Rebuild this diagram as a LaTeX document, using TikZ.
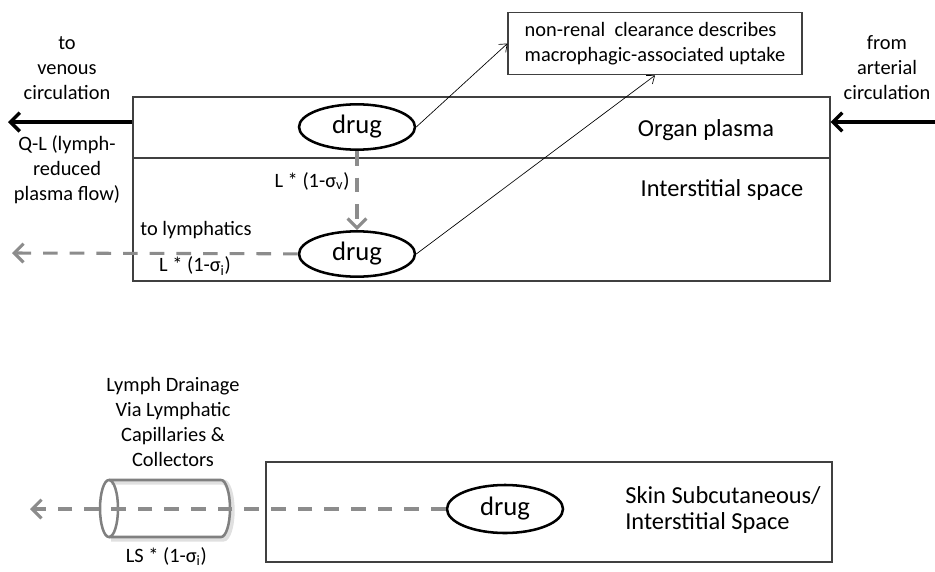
\documentclass[tikz,border=0pt]{standalone}
\usepackage{fontspec}
\setmainfont{Carlito}
\usetikzlibrary{positioning,shapes.geometric,arrows.meta}

\begin{document}
\begin{tikzpicture}[x=0.75pt, y=-0.75pt,
  room/.style={draw=black!75, line width=0.8pt, inner sep=0pt},
  drug/.style={draw, ellipse, line width=1.9pt, minimum width=87pt, minimum height=34pt, inner sep=0pt, font=\fontsize{20}{24}\selectfont},
  lbl/.style={align=center, inner sep=0pt, font=\fontsize{15.3}{18.7}\selectfont},
  big/.style={inner sep=0pt, font=\fontsize{18.3}{19.5}\selectfont},
  flow/.style={line width=2.6pt, -{Straight Barb[length=7pt,width=14pt]}},
  lymph/.style={draw=black!45, line width=2.3pt, dash pattern=on 11pt off 9pt, -{Straight Barb[length=7pt,width=14pt]}},
  uptake/.style={line width=0.5pt, -{Straight Barb[length=5pt,width=8pt]}},
  tube/.style={draw=black!50, line width=1.9pt},
  glow/.style={draw=black!12, line width=4pt}]
\useasboundingbox (0,0) rectangle (935,571);

% organ
\node[room, minimum width=522.75pt, minimum height=45.75pt] (plasma) at (481.5,127.5) {};
\node[room, minimum width=522.75pt, minimum height=92.25pt] (isf) at (481.5,219.5) {};
\node[big] (plasmatxt) at (706,130) {Organ plasma};
\node[big] (isftxt) at (722,190) {Interstitial space};

\node[drug] (vdrug) at (357,127) {drug};
\node[drug] (idrug) at (357,254) {drug};

\node[room, lbl, align=left, minimum width=220.5pt, minimum height=47pt] (clear) at (655,43.5) {non-renal \ clearance describes\\macrophagic-associated uptake};

\node[lbl] (ventxt) at (67,68) {to\\venous\\circulation};
\node[lbl] (qltxt) at (67,170) {Q-L (lymph-\\reduced\\plasma flow)};
\node[lbl] (arttxt) at (887,68) {from\\arterial\\circulation};
\coordinate (venous) at (8,122);
\coordinate (arterial) at (935,122);

\draw[flow] (venous -| plasma.west) -- (venous);
\draw[flow] (arterial) -- (arterial -| plasma.east);

\draw[lymph] (vdrug) -- (idrug);
\node[lbl] (sigv) at (312,181) {L * (1-σ\textsubscript{v})};

\coordinate (lymphout) at (12,253);
\draw[lymph] (idrug) -- (lymphout);
\node[lbl] (tolymph) at (196,230) {to lymphatics};
\node[lbl] (sigi) at (195,266) {L * (1-σ\textsubscript{i})};

\draw[uptake] (vdrug.east) -- (clear.west);
\draw[uptake] (idrug.east) -- (clear.south);

% skin
\node[room, minimum width=424.5pt, minimum height=75pt] (skin) at (549,512) {};
\node[big, align=left] (skintxt) at (723,510) {Skin Subcutaneous/\\Interstitial Space};
\node[drug, minimum height=36pt] (sdrug) at (505,509) {drug};

% lymph duct
\coordinate (duct) at (165,508.5);
\draw[glow] (111,482) -- (223,482) arc[start angle=270, end angle=450, x radius=9, y radius=28.5] -- (111,539);
\draw[tube] (109,480) -- (221,480) arc[start angle=270, end angle=450, x radius=9, y radius=28.5] -- (109,537);
\draw[tube] (109,508.5) ellipse[x radius=9, y radius=28.5];
\node[lbl, above=31pt of duct, xshift=6pt] (draintxt) {Lymph Drainage\\Via Lymphatic\\Capillaries \&\\Collectors};
\node[lbl, below=29pt of duct, xshift=1pt] (sigls) {LS * (1-σ\textsubscript{i})};

\coordinate (drain) at (30,509);
\draw[lymph] (sdrug) -- (drain);
\end{tikzpicture}
\end{document}
